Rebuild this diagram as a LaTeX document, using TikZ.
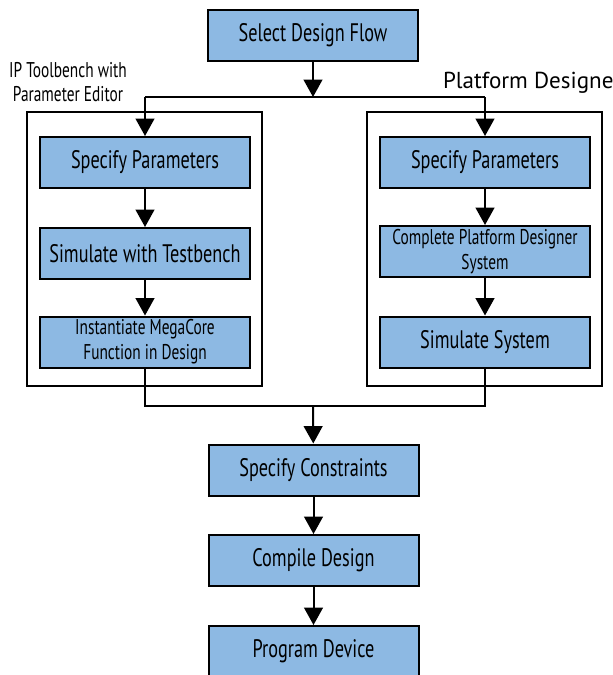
\documentclass[tikz,border=0pt]{standalone}
\usepackage{fontspec}
\setmainfont{PT Sans}
\newfontfamily\condfont{PT Sans}[FakeStretch=0.72]
\usetikzlibrary{arrows.meta}
\definecolor{boxblue}{RGB}{141,185,227}

\tikzset{every picture/.style={line width=1.5pt}}
\tikzset{
  box/.style={draw, fill=boxblue, minimum width=157.5pt, minimum height=38.25pt, inner sep=1pt, align=center, font=\condfont\fontsize{19}{20}\selectfont},
  smallbox/.style={box, font=\condfont\fontsize{16}{18.75}\selectfont},
  flow/.style={-{Triangle[width=14pt,length=13pt]}},
}

\begin{document}
\begin{tikzpicture}[x=0.75pt,y=0.75pt,yscale=-1,xscale=1]
        \useasboundingbox (0,0) rectangle (613,675);
        % group frames
        \draw (27,112) rectangle (262,386);
        \draw (367,112) rectangle (602,386);
        % Text Node
        \node [align=center, inner sep=0pt, font=\condfont\fontsize{16}{18}\selectfont] (ipLbl) at (68,82) {IP Toolbench with\\Parameter Editor};
        % Text Node
        \node [anchor=base west, inner sep=0pt, font=\fontsize{17.3}{20}\selectfont] (pdLbl) at (442,88) {Platform Designe};
        % main flow
        \node [box] (sel) at (313,35) {Select Design Flow};
        \node [box] (con) at (313.5,470) {Specify Constraints};
        \node [box] (comp) at (313.5,560.5) {Compile Design};
        \node [box] (prog) at (313.5,651.5) {Program Device};
        % left branch
        \node [box] (spL) at (145,162.5) {Specify Parameters};
        \node [box] (simL) at (145,253.5) {Simulate with Testbench};
        \node [smallbox] (instL) at (145,342) {Instantiate MegaCore\\Function in Design};
        % right branch
        \node [box] (spR) at (485,162.5) {Specify Parameters};
        \node [smallbox] (cpsR) at (485,251.5) {Complete Platform Designer\\System};
        \node [box] (simR) at (485,342) {Simulate System};
        % junctions
        \coordinate (split) at (313,97);
        \coordinate (merge) at (313,406);
        % connectors
        \draw [flow] (sel) -- (split);
        \draw (spL |- split) -- (spR |- split);
        \draw [flow] (spL |- split) -- (spL);
        \draw [flow] (spR |- split) -- (spR);
        \draw [flow] (spL) -- (simL);
        \draw [flow] (simL) -- (instL);
        \draw [flow] (spR) -- (cpsR);
        \draw [flow] (cpsR) -- (simR);
        \draw (instL.south) |- (merge);
        \draw (simR.south) |- (merge);
        \draw [flow] (merge) -- (con);
        \draw [flow] (con) -- (comp);
        \draw [flow] (comp) -- (prog);
\end{tikzpicture}
\end{document}
